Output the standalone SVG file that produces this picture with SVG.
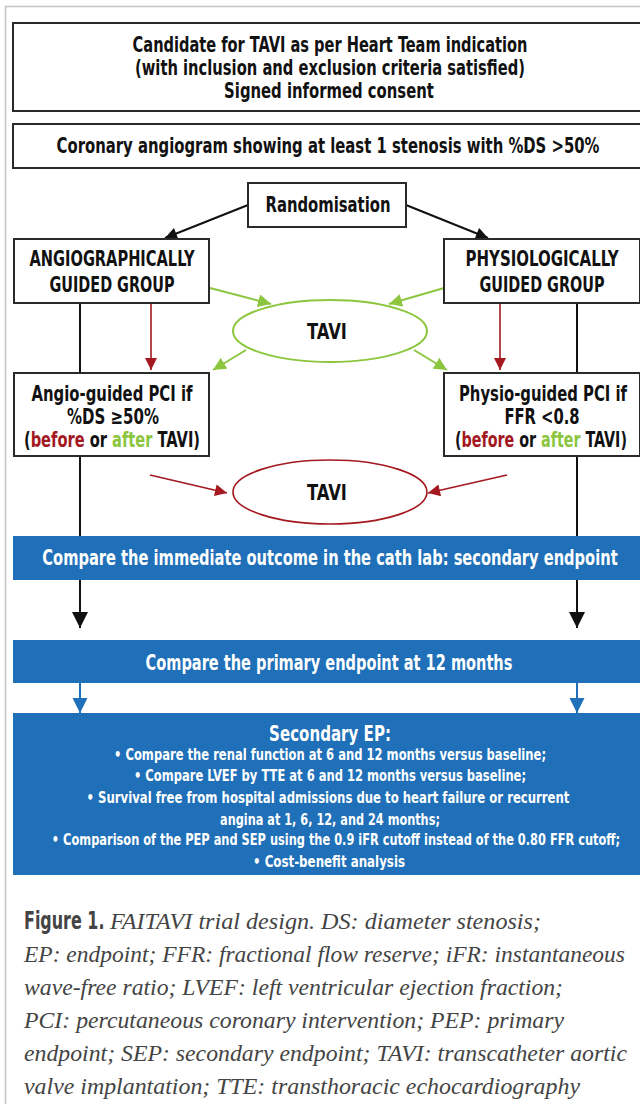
<svg xmlns="http://www.w3.org/2000/svg" width="640" height="1104" viewBox="0 0 640 1104">
<style>
.t{font-family:"Liberation Sans Narrow","DejaVu Sans Condensed","Roboto Condensed","Liberation Sans",sans-serif;font-weight:bold;fill:#111;text-anchor:middle;font-size:21px}
.s{font-size:16.5px}
.h{font-size:22px}
.w{fill:#fff}
.box{fill:#fff;stroke:#2a2a2a;stroke-width:2}
.bar{fill:#1f70b8}
.cap{font-family:"Liberation Serif","Times New Roman",serif;font-style:italic;fill:#444;font-size:23px}
.red{fill:#a3191f}
.grn{fill:#8cc63f}
</style>
<defs>
<marker id="mk" viewBox="0 0 10 10" refX="10" refY="5" markerWidth="13" markerHeight="12" orient="auto" markerUnits="userSpaceOnUse"><path d="M0,0 L10,5 L0,10 z" fill="#111"/></marker>
<marker id="mr" viewBox="0 0 10 10" refX="10" refY="5" markerWidth="13" markerHeight="12" orient="auto" markerUnits="userSpaceOnUse"><path d="M0,0 L10,5 L0,10 z" fill="#a3191f"/></marker>
<marker id="mg" viewBox="0 0 10 10" refX="10" refY="5" markerWidth="13" markerHeight="13" orient="auto" markerUnits="userSpaceOnUse"><path d="M0,0 L10,5 L0,10 z" fill="#8cc63f"/></marker>
<marker id="mkb" viewBox="0 0 10 10" refX="10" refY="5" markerWidth="17" markerHeight="16" orient="auto" markerUnits="userSpaceOnUse"><path d="M0,0 L10,5 L0,10 z" fill="#111"/></marker>
<marker id="mb" viewBox="0 0 10 10" refX="10" refY="5" markerWidth="15" markerHeight="16" orient="auto" markerUnits="userSpaceOnUse"><path d="M0,0 L10,5 L0,10 z" fill="#1f70b8"/></marker>
</defs>
<rect width="640" height="1104" fill="#fff"/>
<path d="M5.5,1104 V6.5 H640" fill="none" stroke="#c4c4c4" stroke-width="1.5"/>

<g id="connectors" fill="none">
<g stroke="#111" stroke-width="2">
<line x1="248" y1="205" x2="165" y2="238" marker-end="url(#mk)"/>
<line x1="406" y1="205" x2="488" y2="238" marker-end="url(#mk)"/>
<line x1="80" y1="303" x2="80" y2="373"/>
<line x1="577" y1="303" x2="577" y2="373"/>
<line x1="80" y1="456" x2="80" y2="536"/>
<line x1="577" y1="456" x2="577" y2="536"/>
<line x1="80" y1="580" x2="80" y2="628" marker-end="url(#mkb)"/>
<line x1="577" y1="580" x2="577" y2="628" marker-end="url(#mkb)"/>
</g>
<g stroke="#1f70b8" stroke-width="2">
<line x1="80" y1="683" x2="80" y2="713" marker-end="url(#mb)"/>
<line x1="577" y1="683" x2="577" y2="713" marker-end="url(#mb)"/>
</g>
<g stroke="#a3191f" stroke-width="1.6">
<line x1="151" y1="303" x2="151" y2="370" marker-end="url(#mr)"/>
<line x1="500" y1="303" x2="500" y2="370" marker-end="url(#mr)"/>
<line x1="150" y1="475" x2="227" y2="493" marker-end="url(#mr)"/>
<line x1="507" y1="475" x2="428" y2="493" marker-end="url(#mr)"/>
</g>
<g stroke="#8cc63f" stroke-width="2">
<line x1="210" y1="288" x2="271" y2="304" marker-end="url(#mg)"/>
<line x1="444" y1="288" x2="389" y2="304" marker-end="url(#mg)"/>
<line x1="246" y1="350" x2="213" y2="370" marker-end="url(#mg)"/>
<line x1="414" y1="350" x2="447" y2="370" marker-end="url(#mg)"/>
</g>
</g>

<g id="candidate">
<rect class="box" x="13" y="23" width="628" height="88"/>
<text class="t" transform="translate(330,52) scale(0.714,1)" textLength="553" lengthAdjust="spacingAndGlyphs">Candidate for TAVI as per Heart Team indication</text>
<text class="t" transform="translate(330,75) scale(0.677,1)" textLength="576" lengthAdjust="spacingAndGlyphs">(with inclusion and exclusion criteria satisfied)</text>
<text class="t" transform="translate(329,98) scale(0.777,1)" textLength="270" lengthAdjust="spacingAndGlyphs">Signed informed consent</text>
</g>

<g id="angiogram">
<rect class="box" x="13" y="124" width="628" height="44"/>
<text class="t" transform="translate(328,153) scale(0.769,1)" textLength="706" lengthAdjust="spacingAndGlyphs">Coronary angiogram showing at least 1 stenosis with %DS &gt;50%</text>
</g>

<g id="randomisation">
<rect class="box" x="248" y="183" width="158" height="44"/>
<text class="t" transform="translate(328,212) scale(0.817,1)" textLength="153" lengthAdjust="spacingAndGlyphs">Randomisation</text>
</g>

<g id="angio-group">
<rect class="box" x="14" y="239" width="195" height="64"/>
<text class="t" transform="translate(112,266) scale(0.722,1)" textLength="228.5" lengthAdjust="spacingAndGlyphs">ANGIOGRAPHICALLY</text>
<text class="t" transform="translate(112,292) scale(0.731,1)" textLength="171" lengthAdjust="spacingAndGlyphs">GUIDED GROUP</text>
</g>

<g id="physio-group">
<rect class="box" x="444" y="239" width="196" height="64"/>
<text class="t" transform="translate(542,266) scale(0.715,1)" textLength="214" lengthAdjust="spacingAndGlyphs">PHYSIOLOGICALLY</text>
<text class="t" transform="translate(542,292) scale(0.731,1)" textLength="171" lengthAdjust="spacingAndGlyphs">GUIDED GROUP</text>
</g>

<g id="tavi-green">
<ellipse cx="330" cy="331" rx="97" ry="31" fill="#fff" stroke="#8cc63f" stroke-width="2"/>
<text class="t" transform="translate(327,339) scale(0.70,1)" textLength="57" lengthAdjust="spacingAndGlyphs">TAVI</text>
</g>

<g id="angio-pci">
<rect class="box" x="14" y="373" width="195" height="83"/>
<text class="t" transform="translate(112,401) scale(0.722,1)" textLength="223" lengthAdjust="spacingAndGlyphs">Angio-guided PCI if</text>
<text class="t" transform="translate(113,424) scale(0.836,1)" textLength="110" lengthAdjust="spacingAndGlyphs">%DS ≥50%</text>
<text class="t" transform="translate(112,447) scale(0.68,1)" textLength="259" lengthAdjust="spacingAndGlyphs">(<tspan class="red">before</tspan> or <tspan class="grn">after</tspan> TAVI)</text>
</g>

<g id="physio-pci">
<rect class="box" x="444" y="373" width="196" height="83"/>
<text class="t" transform="translate(543,401) scale(0.715,1)" textLength="235" lengthAdjust="spacingAndGlyphs">Physio-guided PCI if</text>
<text class="t" transform="translate(542,424) scale(0.80,1)" textLength="94" lengthAdjust="spacingAndGlyphs">FFR &lt;0.8</text>
<text class="t" transform="translate(541,447) scale(0.664,1)" textLength="259" lengthAdjust="spacingAndGlyphs">(<tspan class="red">before</tspan> or <tspan class="grn">after</tspan> TAVI)</text>
</g>

<g id="tavi-red">
<ellipse cx="330" cy="492" rx="97" ry="32" fill="#fff" stroke="#a3191f" stroke-width="1.6"/>
<text class="t" transform="translate(327,500) scale(0.70,1)" textLength="57" lengthAdjust="spacingAndGlyphs">TAVI</text>
</g>

<g id="immediate-outcome">
<rect class="bar" x="13" y="536" width="627" height="44"/>
<text class="t w" transform="translate(330,565) scale(0.753,1)" textLength="764" lengthAdjust="spacingAndGlyphs">Compare the immediate outcome in the cath lab: secondary endpoint</text>
</g>

<g id="primary-endpoint">
<rect class="bar" x="13" y="640" width="627" height="43"/>
<text class="t w" transform="translate(329,670) scale(0.761,1)" textLength="482" lengthAdjust="spacingAndGlyphs">Compare the primary endpoint at 12 months</text>
</g>

<g id="secondary-ep">
<rect class="bar" x="13" y="713" width="627" height="162"/>
<text class="t w h" transform="translate(330,741) scale(0.762,1)" textLength="160" lengthAdjust="spacingAndGlyphs">Secondary EP:</text>
<text class="t w s" transform="translate(330,760) scale(0.731,1)" textLength="591" lengthAdjust="spacingAndGlyphs">• Compare the renal function at 6 and 12 months versus baseline;</text>
<text class="t w s" transform="translate(330,781) scale(0.744,1)" textLength="527" lengthAdjust="spacingAndGlyphs">• Compare LVEF by TTE at 6 and 12 months versus baseline;</text>
<text class="t w s" transform="translate(328,803) scale(0.706,1)" textLength="684" lengthAdjust="spacingAndGlyphs">• Survival free from hospital admissions due to heart failure or recurrent</text>
<text class="t w s" transform="translate(330,825) scale(0.70,1)" textLength="314" lengthAdjust="spacingAndGlyphs">angina at 1, 6, 12, and 24 months;</text>
<text class="t w s" transform="translate(336,845) scale(0.699,1)" textLength="813" lengthAdjust="spacingAndGlyphs">• Comparison of the PEP and SEP using the 0.9 iFR cutoff instead of the 0.80 FFR cutoff;</text>
<text class="t w s" transform="translate(329,867) scale(0.714,1)" textLength="213" lengthAdjust="spacingAndGlyphs">• Cost-benefit analysis</text>
</g>

<g id="caption">
<text transform="translate(24,929) scale(0.70,1)" font-family="Liberation Sans Narrow,DejaVu Sans Condensed,Liberation Sans,sans-serif" font-weight="bold" font-size="24" fill="#444" textLength="115" lengthAdjust="spacingAndGlyphs">Figure 1.</text>
<text class="cap" x="110" y="929" textLength="431" lengthAdjust="spacingAndGlyphs">FAITAVI trial design. DS: diameter stenosis;</text>
<text class="cap" x="24" y="962" textLength="601" lengthAdjust="spacingAndGlyphs">EP: endpoint; FFR: fractional flow reserve; iFR: instantaneous</text>
<text class="cap" x="24" y="995" textLength="539" lengthAdjust="spacingAndGlyphs">wave-free ratio; LVEF: left ventricular ejection fraction;</text>
<text class="cap" x="24" y="1028" textLength="540" lengthAdjust="spacingAndGlyphs">PCI: percutaneous coronary intervention; PEP: primary</text>
<text class="cap" x="24" y="1061" textLength="603" lengthAdjust="spacingAndGlyphs">endpoint; SEP: secondary endpoint; TAVI: transcatheter aortic</text>
<text class="cap" x="24" y="1094" textLength="556" lengthAdjust="spacingAndGlyphs">valve implantation; TTE: transthoracic echocardiography</text>
</g>
</svg>
